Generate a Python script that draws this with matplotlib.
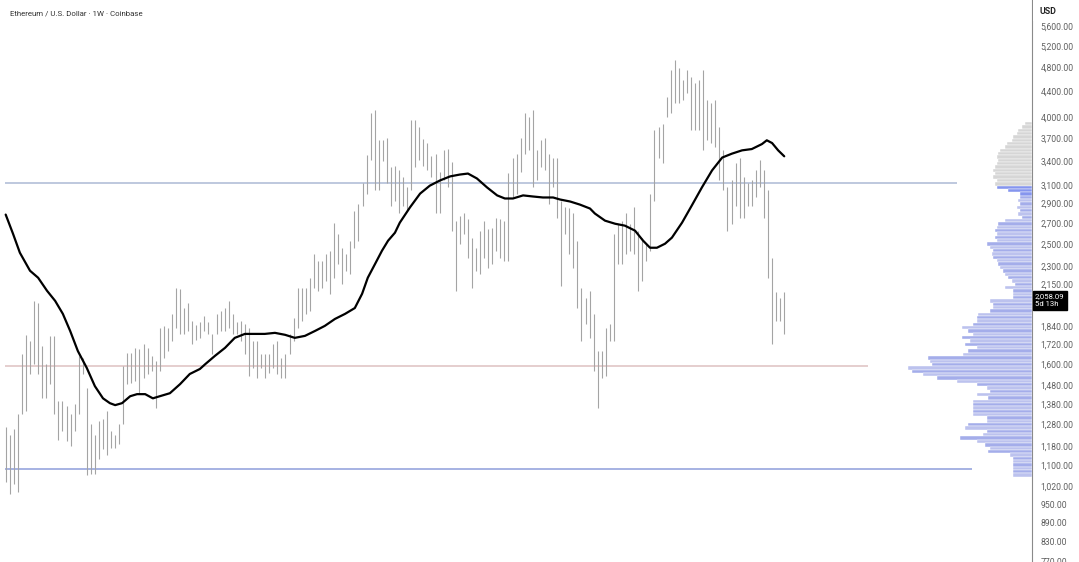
import numpy as np
import matplotlib
matplotlib.use("Agg")
import matplotlib.pyplot as plt
from matplotlib.patches import Rectangle
from matplotlib.transforms import offset_copy
from matplotlib.ticker import FixedLocator, FuncFormatter, NullLocator

# weekly bars, ETH/USD (high, low)
highs = [1270, 1230, 1260, 1330, 1660, 1785, 1744, 2023, 2008, 1712,
         1600, 1777, 1777, 1395, 1395, 1370, 1330, 1380, 1650, 1640,
         1465, 1280, 1230, 1295, 1305, 1344, 1248, 1230, 1280, 1590,
         1668, 1668, 1700, 1692, 1725, 1700, 1650, 1619, 1830, 1845,
         1830, 1928, 2124, 2116, 1970, 2008, 1878, 1850, 1870, 1912,
         1870, 1790, 1928, 1950, 1970, 2023, 1928, 1870, 1878, 1860,
         1830, 1744, 1744, 1660, 1660, 1660, 1725, 1744, 1640, 1660,
         1790, 1900, 2124, 2124, 2124, 2200, 2410, 2347, 2347, 2410,
         2436, 2703, 2595, 2463, 2410, 2528, 2827, 2900, 3125, 3470,
         4053, 4099, 3667, 3667, 3700, 3316, 3340, 3280, 3195, 3080,
         3950, 3950, 3850, 3690, 3630, 3456, 3490, 3255, 3533, 3550,
         3380, 2723, 2775, 2805, 2743, 2557, 2463, 2624, 2723, 2644,
         2654, 2754, 2743, 2723, 3245, 3430, 3490, 3700, 4053, 4000,
         4099, 3533, 3667, 3700, 3490, 3430, 3430, 2934, 2860, 2850,
         2800, 2528, 2124, 2045, 2100, 1928, 1680, 1680, 1830, 1860,
         2595, 2692, 2723, 2800, 2692, 2860, 2624, 2557, 2500, 3010,
         3805, 3850, 3900, 4300, 4756, 4936, 4790, 4583, 4756, 4640,
         4530, 4583, 4756, 4254, 4210, 4254, 3850, 3533, 3080, 3160,
         3370, 3440, 3195, 3125, 3160, 3280, 3404, 3280, 3045, 2375,
         2092, 2045, 2092]
lows = [1036, 990, 1025, 998, 1330, 1344, 1543, 1600, 1543, 1410,
        1410, 1486, 1330, 1210, 1248, 1202, 1180, 1248, 1330, 1543,
        1063, 1067, 1067, 1128, 1167, 1145, 1171, 1171, 1189, 1280,
        1486, 1492, 1503, 1437, 1520, 1543, 1560, 1360, 1560, 1640,
        1680, 1744, 1830, 1790, 1790, 1810, 1725, 1750, 1764, 1810,
        1790, 1660, 1790, 1810, 1810, 1830, 1790, 1790, 1744, 1660,
        1530, 1578, 1520, 1578, 1520, 1550, 1578, 1543, 1520, 1520,
        1660, 1744, 1830, 1878, 1928, 1949, 2124, 2100, 2124, 2179,
        2077, 2200, 2320, 2155, 2262, 2237, 2463, 2528, 2880, 3000,
        3404, 3045, 3045, 3400, 3125, 2880, 2934, 2800, 2880, 2827,
        3045, 3316, 3404, 3340, 3280, 3195, 2800, 2800, 3160, 3080,
        2624, 2100, 2500, 2595, 2375, 2124, 2262, 2237, 2375, 2287,
        2320, 2436, 2375, 2347, 2347, 2967, 3010, 3255, 3490, 3533,
        3080, 3160, 3316, 3280, 2900, 3080, 2754, 2140, 2595, 2410,
        2287, 1970, 1744, 1860, 1764, 1560, 1360, 1520, 1530, 1744,
        1744, 2320, 2320, 2410, 2436, 2410, 2100, 2179, 2347, 2436,
        2934, 3440, 3370, 4000, 4053, 4210, 4210, 4254, 4370, 3805,
        3805, 3805, 3533, 3667, 3630, 3580, 3160, 3045, 2624, 2692,
        2880, 2754, 2754, 2880, 2880, 2967, 3080, 2754, 2200, 1725,
        1878, 1878, 1790]

# moving average (bar position, price)
ma_idx = [0, 1.8, 3.5, 6.0, 8.0, 10.2, 12.2, 14.1, 15.9, 17.8, 20.0, 22.0,
          24.0, 25.7, 27.0, 28.7, 30.7, 32.4, 34.4, 36.3, 38.0, 40.5, 43.0,
          45.4, 47.9, 49.2, 51.6, 54.1, 56.5, 59.0, 61.5, 63.9, 66.4, 68.9,
          71.3, 73.8, 76.3, 78.7, 81.2, 83.7, 86.1, 87.9, 89.3, 91.1, 92.8,
          94.3, 96.0, 97.2, 99.7, 102.2, 104.6, 107.1, 109.6, 112.0, 114.0,
          116.2, 118.7, 121.2, 123.1, 125.1, 127.6, 130.0, 132.5, 135.0,
          136.7, 139.2, 141.6, 144.1, 145.3, 147.8, 150.3, 152.7, 155.2,
          157.2, 158.9, 160.6, 162.6, 164.3, 166.8, 169.2, 171.7, 174.2,
          176.7, 179.1, 181.6, 184.0, 186.5, 187.7, 189.0, 190.5, 192.0]
ma_vals = [2785, 2595, 2418, 2262, 2204, 2100, 2023, 1928, 1810, 1680,
           1578, 1475, 1410, 1385, 1375, 1385, 1421, 1432, 1432, 1410,
           1421, 1437, 1486, 1543, 1572, 1600, 1650, 1700, 1764, 1790,
           1790, 1790, 1797, 1784, 1764, 1777, 1810, 1844, 1892, 1928,
           1970, 2077, 2204, 2320, 2436, 2528, 2604, 2703, 2860, 3010,
           3100, 3160, 3208, 3230, 3242, 3184, 3080, 2990, 2956, 2956,
           2990, 2978, 2967, 2967, 2945, 2923, 2890, 2848, 2796, 2723,
           2692, 2673, 2624, 2528, 2463, 2463, 2500, 2557, 2703, 2880,
           3080, 3280, 3440, 3490, 3533, 3550, 3616, 3667, 3630, 3533,
           3456]

# horizontal levels: price, last bar index reached, colour
levels = [3131, 1590, 1085]
level_ends = [234.6, 212.6, 238.3]
level_colors = ["#b3bfd8", "#e0c6c6", "#97a5de"]

# volume profile, top row to bottom row (relative volume)
vp_top, vp_bottom = 3925, 1055
vp_vol = [7, 10.3, 13.7, 15.3, 18.7, 20.3, 25.3, 27, 32, 33.7, 35.3, 33.7,
          35.3, 37, 38.7, 37, 38.7, 35.3, 37, 35.3, 23.7, 12, 12, 13.7, 12,
          15.3, 12, 13.7, 10.3, 27, 33.7, 35.3, 37, 35.3, 37, 35.3, 45.3, 42,
          38.7, 40.3, 38.7, 35.3, 33.7, 32, 28.7, 27, 23.7, 20.3, 17, 27,
          18.7, 18.7, 18.7,
          42, 38.7, 38.7, 42, 53.7, 55.3, 55.3, 58.7, 70.3, 63.7, 58.7, 70.3,
          62, 67, 55.3, 63.7, 68.7, 103.7, 102, 100.3, 123.7, 120.3, 108.7,
          95.3, 75.3, 55.3, 45.3, 42, 55.3, 43.7, 58.7, 58.7, 58.7, 58.7,
          58.7, 45.3, 45.3, 63.7, 67, 45.3, 48.7, 72, 55.3, 47, 42, 43.7,
          22, 18.7, 18.7, 18.7, 18.7, 18.7, 18.7]

tick_prices = [5600, 5200, 4800, 4400, 4000, 3700, 3400, 3100, 2900, 2700,
               2500, 2300, 2150, 1840, 1720, 1600, 1480, 1380, 1280, 1180,
               1100, 1020, 950, 890, 830, 770]
last_price = 2058.09
countdown = "5d 13h"
title = "Ethereum / U.S. Dollar \u00b7 1W \u00b7 Coinbase"

W, H = 1079, 562
fig = plt.figure(figsize=(W / 100, H / 100), dpi=100)
ax = fig.add_axes([0, 0, 1032 / W, 1])

idx = np.arange(len(highs))
ax.vlines(idx, lows, highs, color="#a4a4a4", lw=0.8, zorder=2)
ax.plot(ma_idx, ma_vals, color="black", lw=1.6, zorder=4,
        solid_capstyle="round", solid_joinstyle="round")
for lv, end, c in zip(levels, level_ends, level_colors):
    ax.hlines(lv, -0.2, end, color=c, lw=1.2, zorder=1)

ax.set_yscale("log")
ax.set_ylim(769, 6166)
ax.set_xlim(-1.4, 253.1)
ax.yaxis.set_major_locator(FixedLocator(tick_prices))
ax.yaxis.set_minor_locator(NullLocator())
ax.yaxis.set_major_formatter(FuncFormatter(lambda v, p: f"{v:,.2f}"))
ax.yaxis.tick_right()
ax.tick_params(axis="y", length=0, pad=6, labelsize=6.2, labelcolor="#606060")
for lab in ax.get_yticklabels():
    lab.set_family("Roboto")
ax.set_xticks([])
for s in ["top", "left", "bottom"]:
    ax.spines[s].set_visible(False)
ax.spines["right"].set_color("#8a8a8a")
ax.spines["right"].set_linewidth(0.8)

# volume profile on a twin axis, growing leftwards from the price scale
axv = ax.twiny()
edges = np.geomspace(vp_top, vp_bottom, len(vp_vol) + 1)
vp_colors = []
for i in range(len(vp_vol)):
    mid = np.sqrt(edges[i] * edges[i + 1])
    if mid > 3110:
        vp_colors.append("#d6d6d6")
    elif mid > 3000:
        vp_colors.append("#8595ee")
    elif i % 2:
        vp_colors.append("#bcc2ee")
    else:
        vp_colors.append("#a4adea")
axv.barh(edges[1:], vp_vol, height=edges[:-1] - edges[1:], align="edge",
         color=vp_colors, edgecolor="white", linewidth=0.3)
axv.set_xlim(1032, 0)
axv.set_axis_off()

# last price tag, sitting just under the 2,150 label
tag_tr = offset_copy(ax.get_yaxis_transform(), fig=fig, x=0, y=-4,
                     units="dots")
ax.text(1.003, last_price, f"{last_price:,.2f}\n{countdown}",
        transform=tag_tr, ha="left", va="center", family="Roboto",
        fontsize=5.6, color="white", linespacing=1.4, zorder=7,
        bbox=dict(boxstyle="square,pad=0.3", fc="black", ec="black"))

fig.patches.append(Rectangle((1033 / W, 1 - 21 / H), 46 / W, 21 / H,
                             transform=fig.transFigure, fc="white",
                             ec="none", zorder=5))
fig.text(1040 / W, 1 - 12 / H, "USD", fontsize=6.3, color="#222222",
         family="Roboto", fontweight="bold", va="center", zorder=6)
fig.text(10 / W, 1 - 13 / H, title, fontsize=5.7, color="#333333",
         family="Roboto", va="center")

fig.savefig("out.png", dpi=100, facecolor="white")
